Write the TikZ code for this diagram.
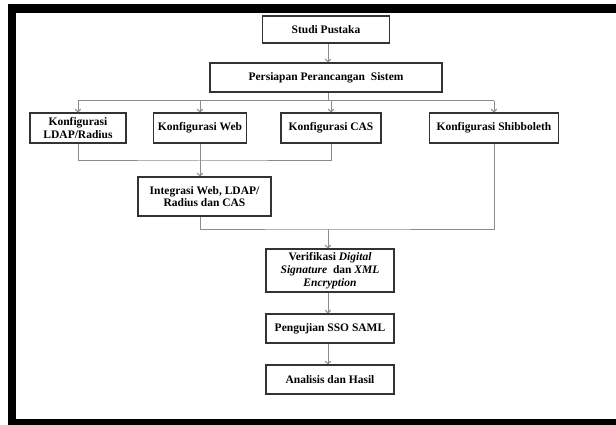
\documentclass[tikz,border=0pt]{standalone}
\usepackage{fontspec}
\setmainfont{Liberation Serif}
\usepackage{tikz}
\usepackage{xcolor}
\usetikzlibrary{arrows.meta}
\definecolor{boxline}{HTML}{333333}
\definecolor{flowline}{HTML}{8C8C8C}
\tikzset{
    flow-box/.style = {draw=boxline, fill=white, line width=1.3pt, rectangle, inner sep=0pt, align=center, font=\fontsize{11.5}{12.8}\selectfont\bfseries},
    flow-line/.style = {draw=flowline, line width=1pt},
    flow-arrow/.style = {flow-line, -{To[length=3.5pt,width=6pt]}},
}

\begin{document}
\begin{tikzpicture}[x=1pt, y=-1pt]
\useasboundingbox (0,0) rectangle (616,425);
\begin{scope}
\clip (0,0) rectangle (616,425);
\draw[line width=8.5pt] (640,8.5) -- (12,8.5) -- (12,423) -- (640,423);
\end{scope}

\node[flow-box, minimum width=127pt, minimum height=27pt] (studi) at (326,29.5) {Studi Pustaka};
\node[flow-box, minimum width=232pt, minimum height=29pt] (persiapan) at (326,77.5) {Persiapan Perancangan\ \ Sistem};

\node[flow-box, minimum width=96pt, minimum height=30pt] (ldap) at (78,128) {Konfigurasi\\LDAP/Radius};
\node[flow-box, minimum width=93pt, minimum height=30pt] (web) at (200,128) {Konfigurasi Web};
\node[flow-box, minimum width=100pt, minimum height=30pt] (cas) at (331,128) {Konfigurasi CAS};
\node[flow-box, minimum width=129pt, minimum height=30pt] (shib) at (494,128) {Konfigurasi Shibboleth};

\node[flow-box, minimum width=133pt, minimum height=39pt] (integrasi) at (204.5,196.5) {Integrasi Web, LDAP/\\Radius dan CAS};

\node[flow-box, minimum width=128pt, minimum height=43pt] (verifikasi) at (330,270.5) {Verifikasi \textit{Digital}\\\textit{Signature}\ \ dan \textit{XML}\\\textit{Encryption}};
\node[flow-box, minimum width=128pt, minimum height=29pt] (pengujian) at (330,328.5) {Pengujian SSO SAML};
\node[flow-box, minimum width=128pt, minimum height=29pt] (analisis) at (330,379.5) {Analisis dan Hasil};

% splitting and joining points
\coordinate (split) at (328,101);
\coordinate (join-a) at (200,161);
\coordinate (join-b) at (328,229);

\draw[flow-arrow] (studi.south -| split) -- (persiapan.north -| split);
\draw[flow-line] (persiapan.south -| split) -- (split);
\draw[flow-line] (split -| ldap) -- (split -| shib);
\foreach \cfg in {ldap, web, cas, shib}
    \draw[flow-arrow] (split -| \cfg) -- (\cfg.north);

\draw[flow-line] (ldap.south) |- (join-a) -| (cas.south);
\draw[flow-arrow] (web.south) -- (integrasi.north -| web.south);

\draw[flow-line] (integrasi.south -| web.south) |- (join-b) -| (shib.south);
\draw[flow-arrow] (join-b) -- (verifikasi.north -| join-b);
\draw[flow-arrow] (verifikasi.south -| join-b) -- (pengujian.north -| join-b);
\draw[flow-arrow] (pengujian.south -| join-b) -- (analisis.north -| join-b);
\end{tikzpicture}
\end{document}
